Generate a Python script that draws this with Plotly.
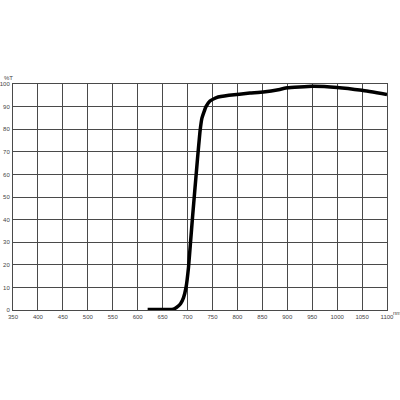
import plotly.graph_objects as go

# wavelength (nm) and transmission (%T)
wavelength = [620, 660, 672, 680, 686, 692, 697, 702, 706, 710, 715, 720, 725,
              729, 737, 745, 758, 783, 825, 852, 885, 900, 950, 1000, 1050, 1100]
transmission = [0.2, 0.2, 0.4, 1.5, 2.8, 5.5, 10, 19, 30, 41, 54, 67, 79,
                85, 90, 92.5, 94, 95, 96, 96.5, 97.6, 98.3, 99, 98.5, 97.2, 95.4]

x_ticks = list(range(350, 1101, 50))
y_ticks = list(range(0, 101, 10))

fig = go.Figure()
fig.add_trace(go.Scatter(x=wavelength, y=transmission, mode="lines",
                         line=dict(color="black", width=3.5, shape="spline", smoothing=0.3),
                         showlegend=False, hoverinfo="skip"))

fig.update_xaxes(range=[350, 1100], tickvals=x_ticks, ticktext=[str(t) for t in x_ticks],
                 showgrid=True, gridcolor="#4a4a4a", gridwidth=1, zeroline=False,
                 showline=True, linecolor="#4a4a4a", linewidth=1, mirror=True,
                 ticks="", ticklabelstandoff=1, automargin=False,
                 tickfont=dict(family="Liberation Sans", size=6, color="#444"))
fig.update_yaxes(range=[0, 100], tickvals=y_ticks, ticktext=[str(t) for t in y_ticks],
                 showgrid=True, gridcolor="#4a4a4a", gridwidth=1, zeroline=False,
                 showline=True, linecolor="#4a4a4a", linewidth=1, mirror=True,
                 ticks="", ticklabelstandoff=1, automargin=False,
                 tickfont=dict(family="Liberation Sans", size=6, color="#444"))

fig.add_annotation(x=0, y=1, xref="paper", yref="paper", text="%T", showarrow=False,
                   xanchor="right", yanchor="bottom", xshift=2, yshift=1,
                   font=dict(family="Liberation Sans", size=6, color="#444"))
fig.add_annotation(x=1, y=0, xref="paper", yref="paper", text="nm", showarrow=False,
                   xanchor="left", yanchor="middle", xshift=4, yshift=-3,
                   font=dict(family="Liberation Sans", size=6, color="#444"))

fig.update_layout(width=400, height=400, margin=dict(l=13, r=13, t=84, b=90),
                  plot_bgcolor="white", paper_bgcolor="white")

# the page's default body margin would shift the figure by 8px
fig.write_html("out.html", config={"displayModeBar": False},
               post_script="document.body.style.margin='0';")
